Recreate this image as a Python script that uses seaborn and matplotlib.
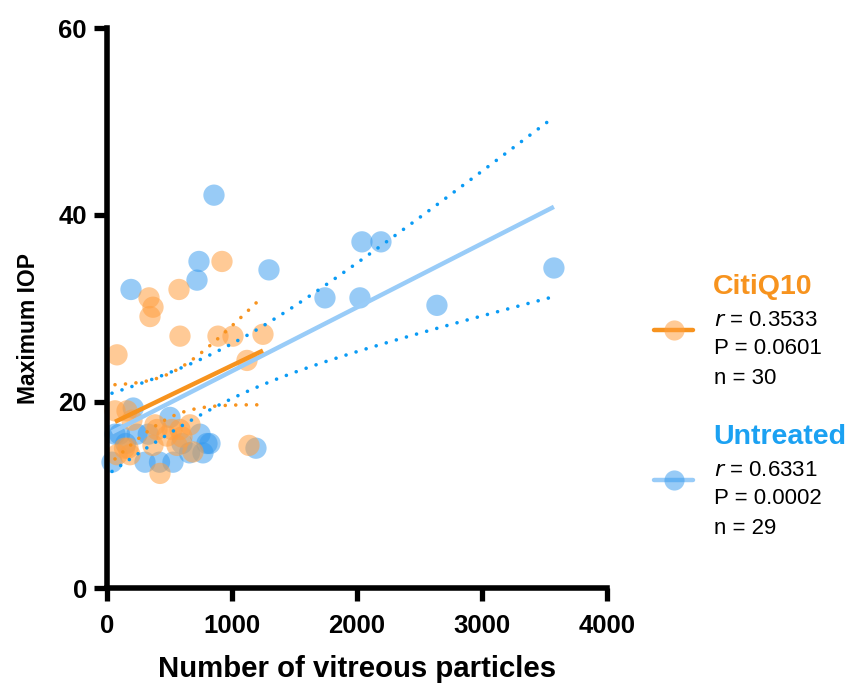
import numpy as np
import pandas as pd
import matplotlib
matplotlib.use("Agg")
import matplotlib.pyplot as plt
from matplotlib.lines import Line2D
import seaborn as sns

# ---- data ----
untreated_x = [856, 192, 736, 720, 1296, 1744, 2024, 2040, 2192, 2640, 3576, 1192,
               40, 64, 100, 150, 210, 240, 330, 304, 420, 528, 504, 600, 660, 744, 768, 800, 824]
untreated_y = [42.1, 32, 35, 33, 34.1, 31.1, 31.1, 37.1, 37.1, 30.3, 34.3, 15,
               13.5, 16.5, 16.5, 15.5, 19.3, 16.5, 16.5, 13.5, 13.5, 13.5, 18.3, 15.5, 14.5, 16.5, 14.5, 15.5, 15.5]
citi_x = [80, 920, 336, 368, 344, 584, 576, 888, 1008, 1248, 1120, 1136,
          64, 160, 200, 384, 400, 520, 584, 664, 368, 560, 600, 168, 80, 184, 688, 424, 480, 140]
citi_y = [25, 35, 31.1, 30.1, 29.1, 27, 32, 27, 27, 27.2, 24.4, 15.3,
          19, 19, 18, 17.5, 17, 17, 17, 17.5, 15.3, 15.3, 16.2, 15, 14.3, 14.3, 14.6, 12.3, 16.3, 15]

groups = ["CitiQ10", "Untreated"]
stats_r = ["0.3533", "0.6331"]
stats_p = ["0.0601", "0.0002"]
stats_n = ["30", "29"]
x_ticks = [0, 1000, 2000, 3000, 4000]
y_ticks = [0, 20, 40, 60]

sns.set_theme(style="white")
plt.rcParams["font.family"] = ["Liberation Sans", "DejaVu Sans"]
for k in ["text.color", "axes.labelcolor", "xtick.color", "ytick.color"]:
    plt.rcParams[k] = "black"

fig = plt.figure(figsize=(8.56, 6.84), dpi=100)
ax = fig.add_axes([0.125, 0.140, 0.584, 0.819])

pt_col = {"CitiQ10": "#FF9F40", "Untreated": "#3399EE"}
fit_col = {"CitiQ10": "#F7931E", "Untreated": "#99CCF8"}
ci_col = {"CitiQ10": "#F7931E", "Untreated": "#0A9BF5"}
txt_col = {"CitiQ10": "#F7931E", "Untreated": "#1BA1F2"}

data = {"CitiQ10": (np.array(citi_x, float), np.array(citi_y, float)),
        "Untreated": (np.array(untreated_x, float), np.array(untreated_y, float))}

def t975(df):
    z = 1.959964
    g1 = (z**3 + z) / 4
    g2 = (5*z**5 + 16*z**3 + 3*z) / 96
    g3 = (3*z**7 + 19*z**5 + 17*z**3 - 15*z) / 384
    return z + g1/df + g2/df**2 + g3/df**3

for g in ["Untreated", "CitiQ10"]:
    x, y = data[g]
    df = pd.DataFrame({"x": x, "y": y})
    sns.scatterplot(data=df, x="x", y="y", ax=ax, color=pt_col[g], alpha=0.5 if g == "Untreated" else 0.55,
                    s=235, edgecolor="none", clip_on=False, zorder=2)

for g in ["Untreated", "CitiQ10"]:
    x, y = data[g]
    n = len(x)
    b, a = np.polyfit(x, y, 1)
    grid = np.linspace(x.min(), x.max(), 200)
    yhat = a + b * grid
    resid = y - (a + b * x)
    s = np.sqrt(np.sum(resid**2) / (n - 2))
    sxx = np.sum((x - x.mean())**2)
    half = t975(n - 2) * s * np.sqrt(1.0/n + (grid - x.mean())**2 / sxx)
    ax.plot(grid, yhat, color=fit_col[g], lw=3.2, zorder=4, solid_capstyle="butt")
    for sign in (1, -1):
        ax.plot(grid, yhat + sign*half, color=ci_col[g], lw=2.6,
                linestyle=(0, (0.01, 2.9)), dash_capstyle="round", zorder=4)

ax.set_xlim(0, 4000)
ax.set_ylim(0, 60)
ax.set_xticks(x_ticks)
ax.set_yticks(y_ticks)
ax.set_xticklabels([str(v) for v in x_ticks], fontsize=18.5, fontweight="bold")
ax.set_yticklabels([str(v) for v in y_ticks], fontsize=18.5, fontweight="bold")
ax.set_xlabel("")
ax.set_ylabel("")
for side in ["top", "right"]:
    ax.spines[side].set_visible(False)
for side in ["left", "bottom"]:
    ax.spines[side].set_linewidth(4.0)
    ax.spines[side].set_color("black")
    ax.spines[side].set_zorder(6)
ax.tick_params(axis="both", direction="out", length=9.5, width=3.8, color="black", bottom=True, left=True)
ax.tick_params(axis="x", pad=9)
ax.tick_params(axis="y", pad=5)

H, W = 684.0, 856.0
def fx(px): return px / W
def fy(py): return 1 - py / H

fig.text(fx(357), fy(677), "Number of vitreous particles", fontsize=21.2, fontweight="bold",
         ha="center", va="baseline")
fig.text(fx(29), fy(329), "Maximum IOP", fontsize=16.5, fontweight="bold",
         rotation=90, ha="center", va="center")

leg_y = {"CitiQ10": 287, "Untreated": 437}
for i, g in enumerate(groups):
    y0 = leg_y[g]
    fig.text(fx(713), fy(y0), g, color=txt_col[g], fontsize=20.5, fontweight="bold", va="center", ha="left")
    hy = y0 + 43
    fig.add_artist(Line2D([fx(654), fx(693)], [fy(hy), fy(hy)], color=fit_col[g], lw=3.2,
                          transform=fig.transFigure))
    fig.add_artist(Line2D([fx(673.5)], [fy(hy)], marker="o", markersize=14.5, markeredgecolor="none",
                          markerfacecolor=pt_col[g], alpha=0.5 if g == "Untreated" else 0.55, transform=fig.transFigure))
    fig.text(fx(714), fy(y0 + 33), r"$\it{r}$ = " + stats_r[i], fontsize=16, va="center", ha="left")
    fig.text(fx(714), fy(y0 + 62), "P = " + stats_p[i], fontsize=16, va="center", ha="left")
    fig.text(fx(714), fy(y0 + 91), "n = " + stats_n[i], fontsize=16, va="center", ha="left")

fig.savefig("out.png", dpi=100)
